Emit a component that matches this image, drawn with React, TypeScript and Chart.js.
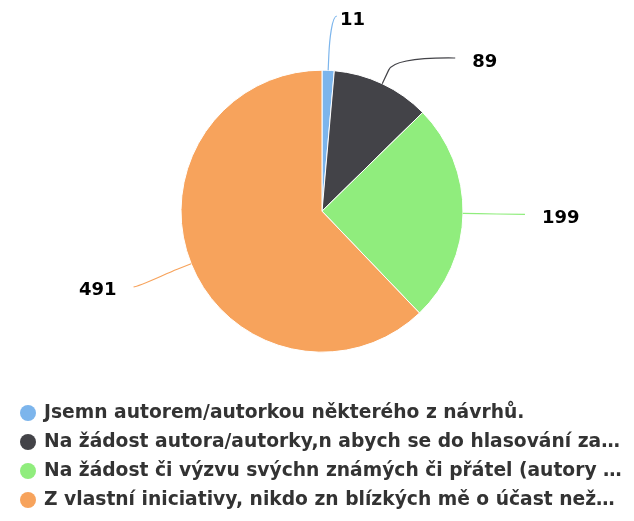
import React, { useEffect, useRef } from "react";
import { Chart, registerables } from "chart.js";

Chart.register(...registerables);

const categories = [
  "Jsemn autorem/autorkou některého z návrhů.",
  "Na žádost autora/autorky,n abych se do hlasování za…",
  "Na žádost či výzvu svýchn známých či přátel (autory …",
  "Z vlastní iniciativy, nikdo zn blízkých mě o účast než…",
];
const values = [11, 89, 199, 491];
const colors = ["#7cb5ec", "#434348", "#90ed7d", "#f7a35c"];

const FONT = "'DejaVu Sans', sans-serif";

const pieLabels = {
  id: "pieLabels",
  afterLayout(chart: any) {
    const lg = chart.legend;
    if (lg) {
      lg.left -= 6.95;
      lg.right = chart.width;
      lg.width = lg.right - lg.left;
    }
  },
  afterDatasetsDraw(chart: any) {
    const meta = chart.getDatasetMeta(0);
    const arcs = meta.data as any[];
    if (!arcs.length) return;
    const ctx = chart.ctx as CanvasRenderingContext2D;
    const cx = arcs[0].x;
    const cy = arcs[0].y;
    const r = arcs[0].outerRadius;
    const dist = 62;
    const breakOff = 15;
    const gap = 17;
    const minGap = 42;
    const minY = 8;
    const R = r + dist;
    const items = arcs.map((a: any, i: number) => {
      const mid = (a.startAngle + a.endAngle) / 2;
      const dx = Math.cos(mid);
      const dy = Math.sin(mid);
      return {
        i,
        dx,
        dy,
        right: dx >= 0,
        x: cx + R * dx,
        y: cy + R * dy,
        clamped: false,
        pushed: false,
      };
    });
    for (const side of [true, false]) {
      const list = items.filter((it) => it.right === side).sort((a, b) => a.y - b.y);
      let prev = -Infinity;
      for (const it of list) {
        if (it.y < minY) {
          it.y = minY;
          it.clamped = true;
        }
        if (it.y < prev + minGap) {
          it.y = prev + minGap;
          it.pushed = true;
        }
        prev = it.y;
        if (it.pushed) {
          const h = it.y - cy;
          it.x = cx + (side ? 1 : -1) * Math.sqrt(Math.max(0, R * R - h * h));
        }
      }
    }
    ctx.save();
    for (const it of items) {
      const tx = cx + r * it.dx;
      const ty = cy + r * it.dy;
      const bx = cx + (r + breakOff) * it.dx;
      const by = cy + (r + breakOff) * it.dy;
      const sgn = it.right ? -1 : 1;
      const ex = it.clamped ? it.x + 6 : it.x;
      ctx.beginPath();
      ctx.moveTo(ex, it.y);
      ctx.bezierCurveTo(ex + sgn * 5, it.y, 2 * bx - tx, 2 * by - ty, bx, by);
      ctx.lineTo(tx, ty);
      ctx.strokeStyle = colors[it.i];
      ctx.lineWidth = 1.2;
      ctx.stroke();

      const text = String(values[it.i]);
      ctx.font = `bold 18px ${FONT}`;
      ctx.textBaseline = "middle";
      ctx.textAlign = it.right ? "left" : "right";
      const g = it.clamped ? 3 : gap;
      const lx = it.right ? ex + g : ex - g;
      const ly = it.y + 4;
      ctx.lineJoin = "round";
      ctx.lineWidth = 2;
      ctx.strokeStyle = "#ffffff";
      ctx.strokeText(text, lx, ly);
      ctx.fillStyle = "#000000";
      ctx.fillText(text, lx, ly);
    }
    ctx.restore();
  },
};

export default function App() {
  const ref = useRef<HTMLCanvasElement | null>(null);
  useEffect(() => {
    if (!ref.current) return;
    const baseGen = (Chart as any).overrides.doughnut.plugins.legend.labels.generateLabels;
    const chart = new Chart(ref.current, {
      type: "pie",
      data: {
        labels: categories,
        datasets: [
          {
            data: values,
            backgroundColor: colors,
            borderColor: "#ffffff",
            borderWidth: 1,
            radius: 141,
          } as any,
        ],
      },
      plugins: [pieLabels],
      options: {
        animation: false,
        responsive: true,
        maintainAspectRatio: false,
        layout: { padding: { top: 21, left: 18, right: 8, bottom: -6.35 } },
        plugins: {
          tooltip: { enabled: false },
          legend: {
            position: "bottom",
            align: "start",
            labels: {
              usePointStyle: true,
              pointStyle: "circle",
              boxWidth: 13.3,
              boxHeight: 11.3,
              padding: 10.3,
              color: "#333333",
              font: { family: FONT, size: 18.7, weight: "bold" },
              generateLabels: (c: any) =>
                baseGen(c).map((l: any) => ({ ...l, lineWidth: 0, strokeStyle: l.fillStyle })),
            },
          },
        },
      },
    });
    return () => chart.destroy();
  }, []);
  return (
    <div style={{ position: "relative", height: 505, width: 634, marginLeft: -8 }}>
      <canvas ref={ref} />
    </div>
  );
}
